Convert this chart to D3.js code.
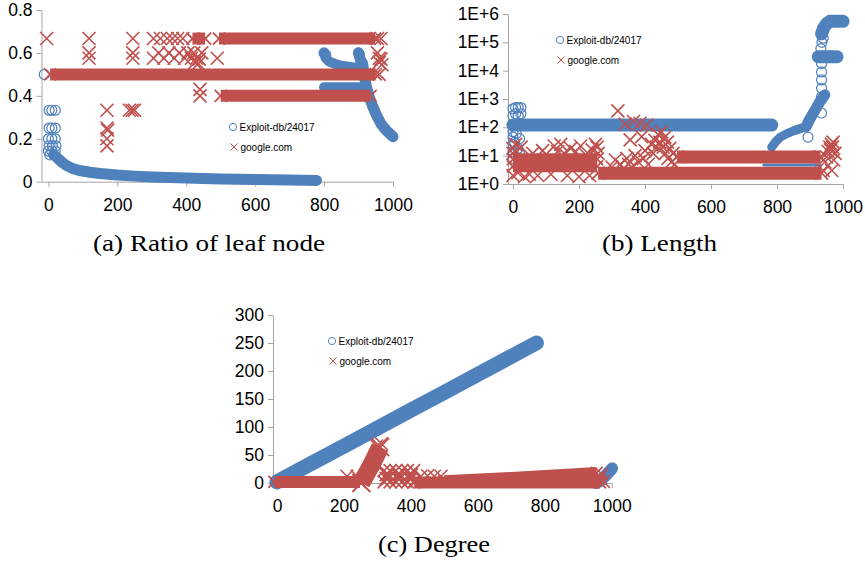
<!DOCTYPE html>
<html>
<head>
<meta charset="utf-8">
<script src="https://cdn.jsdelivr.net/npm/d3@7"></script>
<style>
  body { margin: 0; background: #fff; }
  svg { display: block; }
</style>
</head>
<body>
<svg id="fig" width="865" height="562"></svg>
<script>
const blue = '#4F81BD'
const red = '#C0504D'
const axisGrey = '#a6a6a6'

// (a) Ratio of leaf node
const ratioXTicks = [0, 200, 400, 600, 800, 1000]
const ratioYTicks = [0, 0.2, 0.4, 0.6, 0.8]
// dense runs of overlapping markers, read as [x, value]
const ratioExploitBands = [
  [[15,0.125],[20,0.12],[30,0.105],[40,0.09],[53,0.075],[70,0.062],[90,0.052],[120,0.044],[150,0.038],[200,0.031],[250,0.026],[300,0.022],[400,0.017],[500,0.013],[600,0.010],[700,0.008],[778,0.006]],
  [[800,0.6],[805,0.575],[815,0.56],[830,0.55],[850,0.54],[875,0.535],[900,0.53]],
  [[800,0.44],[900,0.44]],
  [[900,0.6],[905,0.57],[912,0.55],[916,0.5],[922,0.45],[930,0.4],[940,0.355],[952,0.31],[965,0.27],[980,0.24],[1000,0.21]]
]
const ratioExploitPts = [[-12,0.5],[2,0.333],[10,0.333],[20,0.333],[2,0.25],[10,0.25],[20,0.25],[0,0.2],[10,0.2],[20,0.2],
  [2,0.167],[12,0.167],[22,0.167],[0,0.143],[10,0.143],[20,0.143],[4,0.125],[800,0.6],[805,0.59],[900,0.6],[903,0.59]]
const ratioGoogleBands = [
  [[5,0.5],[950,0.5]],
  [[418,0.667],[455,0.667]],
  [[495,0.667],[948,0.667]],
  [[500,0.4],[935,0.4]]
]
const ratioGooglePts = [[-5,0.667],[118,0.667],[118,0.6],[118,0.575],[245,0.667],[245,0.6],[245,0.575],
  [305,0.667],[325,0.667],[345,0.667],[360,0.667],[375,0.667],[390,0.667],
  [305,0.575],[320,0.6],[335,0.575],[350,0.6],[365,0.575],[380,0.6],[395,0.575],[405,0.6],
  [415,0.575],[422,0.6],[430,0.575],[438,0.571],[445,0.6],[425,0.556],[435,0.55],[490,0.575],
  [440,0.43],[440,0.4],[170,0.333],[170,0.25],[172,0.24],[170,0.2],[170,0.167],[235,0.333],[243,0.333],[250,0.333],
  [955,0.6],[960,0.575],[965,0.571],[960,0.556],[968,0.545],[955,0.667],[965,0.667],[960,0.5]]

// (b) Length
const lengthXTicks = [0, 200, 400, 600, 800, 1000]
const lengthYTicks = [1, 10, 100, 1e3, 1e4, 1e5, 1e6]
const lengthYLabels = ['1E+0', '1E+1', '1E+2', '1E+3', '1E+4', '1E+5', '1E+6']
const lengthExploitBands = [
  [[0,120],[784,120]],
  [[784,20],[795,30],[810,45],[830,60],[850,75],[870,90],[888,105]],
  [[888,105],[900,200],[915,400],[930,800],[945,1400]],
  [[925,31000],[982,31000]],
  [[935,200000],[942,330000],[950,450000],[960,550000],[1000,550000]],
  [[760,4.7],[930,4.7]]
]
const lengthExploitPts = [[0,8],[0,14],[0,25],[0,45],[0,70],[0,250],[0,450],[8,500],[16,500],[24,500],[8,300],[16,250],[24,300],
  [10,60],[20,40],[5,30],[15,18],[20,12],[894,45],[935,320],[935,1200],[935,2400],[935,4700],[935,9000],[935,18000],
  [933,60000],[936,100000],[940,140000]]
const lengthGoogleBands = [
  [[0,7.5],[255,7.5]],
  [[0,4.2],[255,4.2]],
  [[258,2.4],[935,2.4]],
  [[497,9],[932,9]]
]
const lengthGooglePts = [[0,2],[0,12],[0,18],[8,25],[15,2.5],[25,20],[35,1.8],[50,2.2],[60,12],[75,2],[90,15],[100,11],
  [115,2.2],[125,22],[135,14],[145,25],[155,12],[165,2],[175,18],[190,14],[200,1.8],[205,22],[220,11],[232,2],[240,16],
  [250,25],[255,20],[258,12],
  [300,4],[310,7],[318,380],[325,5],[335,3.5],[340,130],[345,8],[350,5],[355,36],[360,4],[365,160],[370,10],[380,6],
  [385,140],[390,47],[395,8],[400,15],[405,120],[410,5],[420,25],[425,12],[430,35],[435,20],[440,55],[445,30],[450,70],
  [455,20],[460,45],[462,12],[468,30],[470,8],[475,18],[480,6],[485,12],[490,5],
  [940,3],[945,6],[950,9],[955,14],[960,20],[965,25],[970,30],[962,16],[966,3],[972,7],[976,12],[968,20]]

// (c) Degree
const degreeXTicks = [0, 200, 400, 600, 800, 1000]
const degreeYTicks = [0, 50, 100, 150, 200, 250, 300]
const degreeExploitBands = [
  [[0,2],[100,34],[200,66],[300,98],[400,130],[500,162],[600,194],[700,226],[775,250]],
  [[955,0],[970,6],[985,15],[1000,25]]
]
const degreeExploitPts = [[0,3],[1002,27]]
const degreeGoogleBands = [
  [[-8,2],[248,2]],
  [[252,0],[265,14],[280,30],[295,48],[308,64]],
  [[410,1],[965,1]],
  [[500,3],[700,9],[955,18]]
]
const degreeGooglePts = [[209,12],[239,12],[312,70],[298,66],
  [320,22],[326,15],[332,8],[338,2],[320,2],[338,22],[326,8],[332,15],
  [355,22],[361,15],[367,8],[373,2],[355,2],[373,22],[361,8],[367,15],
  [390,22],[396,15],[402,8],[408,2],[390,2],[408,22],[396,8],[402,15],
  [430,12],[450,13],[470,12],[490,12],[960,4],[965,10],[970,16],[975,3]]

const svg = d3.select('#fig')

function xPath(s) {
  return `M${-s},${-s}L${s},${s}M${-s},${s}L${s},${-s}`
}

function drawPanel(props) {
  const {x, y, xTicks, yTicks, yFormat,
    exploitBands, exploitWidths, exploitPts,
    googleBands, googleWidths, googlePts,
    legendX, legendY, caption, captionX, captionY, captionLen} = props

  const g = svg.append('g')
  const [x0, x1] = x.range()
  const yBottom = y.range()[0]

  // axes
  const xAxis = g.append('g').attr('transform', `translate(0,${yBottom})`)
    .call(d3.axisBottom(x).tickValues(xTicks).tickFormat(d3.format('d'))
      .tickSizeInner(5).tickSizeOuter(0).tickPadding(12))
  const yAxis = g.append('g').attr('transform', `translate(${x0},0)`)
    .call(d3.axisLeft(y).tickValues(yTicks).tickFormat(yFormat).tickSizeInner(5).tickSizeOuter(0).tickPadding(4))
  for (const a of [xAxis, yAxis]) {
    a.select('.domain').attr('stroke', axisGrey)
    a.selectAll('.tick line').attr('stroke', axisGrey)
    a.selectAll('.tick text').attr('fill', '#000')
      .style('font-family', '"Liberation Sans", Arial, sans-serif').style('font-size', '17.5px')
  }

  const line = d3.line().x(d => x(d[0])).y(d => y(d[1]))

  // Exploit-db series: overlapping hollow circles become solid runs
  exploitBands.forEach((band, i) => {
    g.append('path').attr('d', line(band))
      .attr('fill', 'none').attr('stroke', blue)
      .attr('stroke-width', exploitWidths[i]).attr('stroke-linecap', 'round').attr('stroke-linejoin', 'round')
  })
  g.selectAll('circle.exploit').data(exploitPts).join('circle')
    .attr('class', 'exploit')
    .attr('cx', d => x(d[0])).attr('cy', d => y(d[1])).attr('r', 5)
    .attr('fill', 'none').attr('stroke', blue).attr('stroke-width', 1.2)

  // google.com series
  googleBands.forEach((band, i) => {
    const w = googleWidths[i]
    g.append('path').attr('d', line(band))
      .attr('fill', 'none').attr('stroke', red)
      .attr('stroke-width', w).attr('stroke-linejoin', 'round')
    g.selectAll(null).data([band[0], band[band.length - 1]]).join('path')
      .attr('d', xPath(w / 2))
      .attr('transform', d => `translate(${x(d[0])},${y(d[1])})`)
      .attr('stroke', red).attr('stroke-width', 1.8).attr('fill', 'none')
  })
  g.selectAll('path.google').data(googlePts).join('path')
    .attr('class', 'google')
    .attr('d', xPath(6.5))
    .attr('transform', d => `translate(${x(d[0])},${y(d[1])})`)
    .attr('stroke', red).attr('stroke-width', 1.6).attr('fill', 'none')

  // legend
  const leg = g.append('g').style('font-family', '"Liberation Sans", Arial, sans-serif').style('font-size', '10px')
  leg.append('circle').attr('cx', legendX).attr('cy', legendY).attr('r', 3.6)
    .attr('fill', 'none').attr('stroke', blue).attr('stroke-width', 1)
  leg.append('text').attr('x', legendX + 6.5).attr('y', legendY + 3.6).text('Exploit-db/24017')
  leg.append('path').attr('d', xPath(3.6)).attr('transform', `translate(${legendX + 1},${legendY + 20})`)
    .attr('stroke', red).attr('stroke-width', 1).attr('fill', 'none')
  leg.append('text').attr('x', legendX + 7.5).attr('y', legendY + 23.6).text('google.com')

  // caption under the panel
  svg.append('text').attr('x', captionX).attr('y', captionY)
    .attr('textLength', captionLen).attr('lengthAdjust', 'spacingAndGlyphs')
    .style('font-family', '"Liberation Serif", "Times New Roman", serif').style('font-size', '23px')
    .text(caption)
}

drawPanel({
  x: d3.scaleLinear().domain([-20, 1000]).range([41.5, 393]),
  y: d3.scaleLinear().domain([0, 0.8]).range([181.7, 10]),
  xTicks: ratioXTicks, yTicks: ratioYTicks, yFormat: d => d === 0 ? '0' : d3.format('.1f')(d),
  exploitBands: ratioExploitBands, exploitWidths: [11, 10, 10, 11], exploitPts: ratioExploitPts,
  googleBands: ratioGoogleBands, googleWidths: [12, 12, 12, 12], googlePts: ratioGooglePts,
  legendX: 233, legendY: 127,
  caption: '(a) Ratio of leaf node', captionX: 93, captionY: 251, captionLen: 232
})

drawPanel({
  x: d3.scaleLinear().domain([-15, 1000]).range([508, 843]),
  y: d3.scaleLog().domain([1, 1e6]).range([184, 14]),
  xTicks: lengthXTicks, yTicks: lengthYTicks, yFormat: (d, i) => lengthYLabels[i],
  exploitBands: lengthExploitBands, exploitWidths: [13, 9, 11, 13, 13, 3], exploitPts: lengthExploitPts,
  googleBands: lengthGoogleBands, googleWidths: [12, 12, 13, 13], googlePts: lengthGooglePts,
  legendX: 560, legendY: 40,
  caption: '(b) Length', captionX: 602, captionY: 251, captionLen: 115
})

drawPanel({
  x: d3.scaleLinear().domain([-12, 1000]).range([273, 611.7]),
  y: d3.scaleLinear().domain([0, 300]).range([483, 315]),
  xTicks: degreeXTicks, yTicks: degreeYTicks, yFormat: d3.format('d'),
  exploitBands: degreeExploitBands, exploitWidths: [15, 12], exploitPts: degreeExploitPts,
  googleBands: degreeGoogleBands, googleWidths: [12, 18, 12, 12], googlePts: degreeGooglePts,
  legendX: 332, legendY: 341,
  caption: '(c)  Degree', captionX: 378, captionY: 552, captionLen: 112
})
</script>
</body>
</html>
